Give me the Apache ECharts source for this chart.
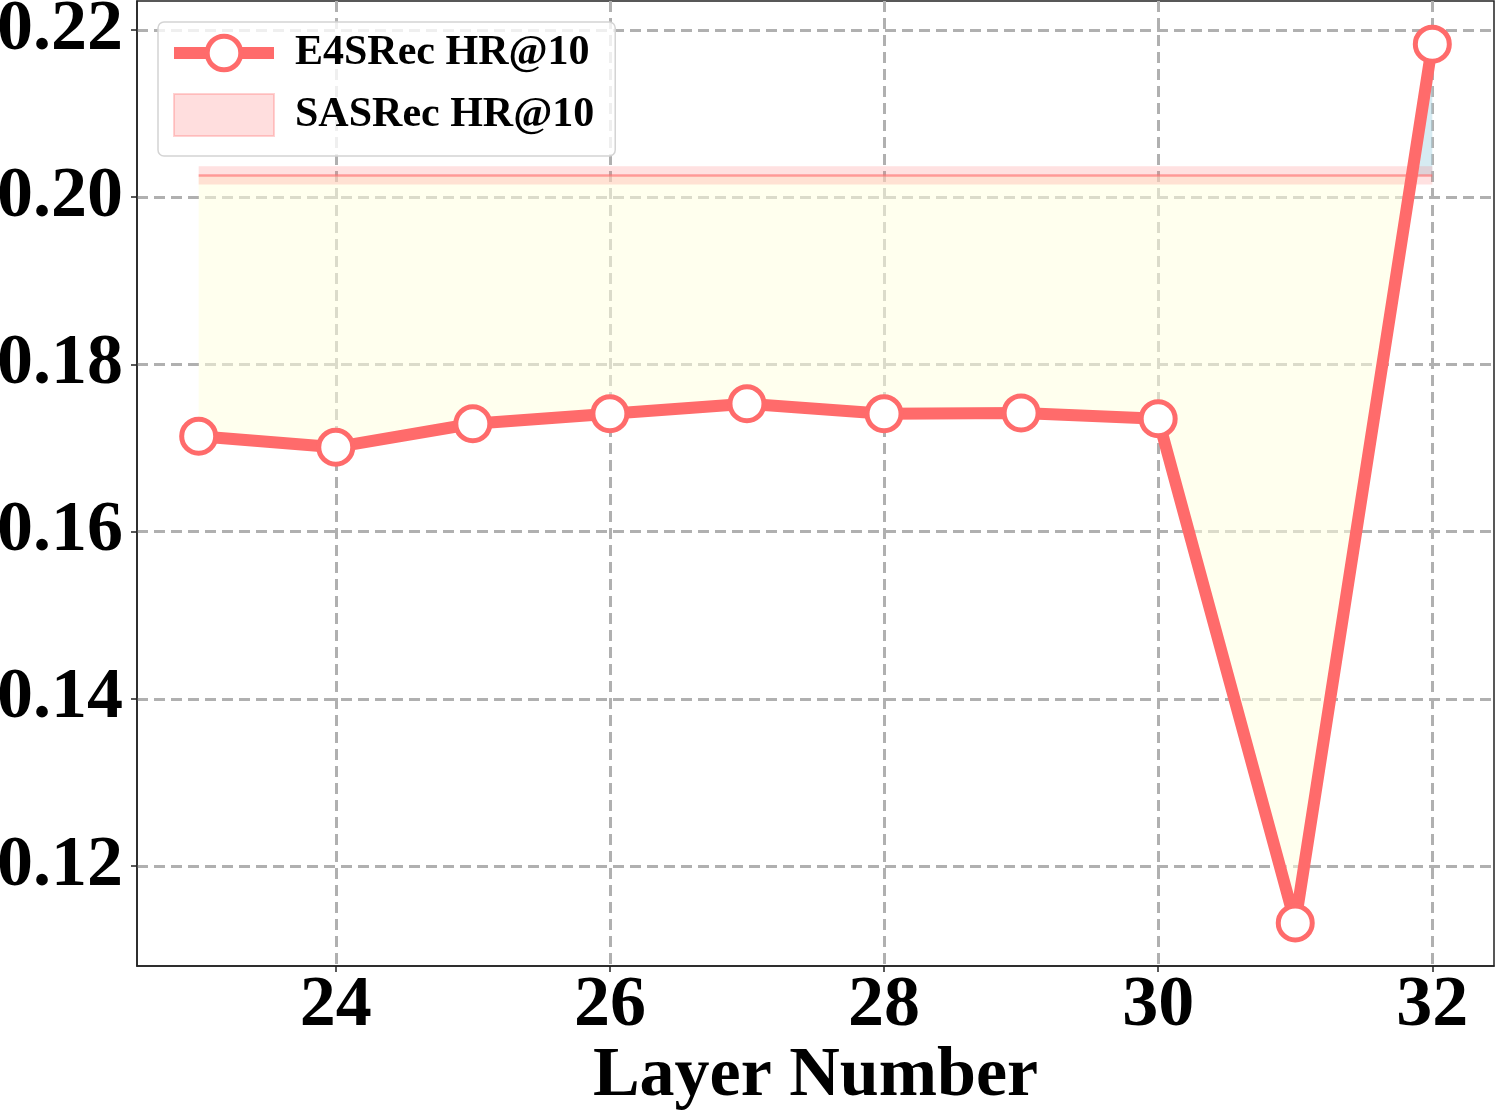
<!DOCTYPE html>
<html>
<head>
<meta charset="utf-8">
<script src="https://cdn.jsdelivr.net/npm/echarts@6/dist/echarts.min.js"></script>
<style>
  html, body { margin: 0; padding: 0; background: #fff; }
  #chart { width: 1495px; height: 1111px; }
</style>
</head>
<body>
<div id="chart"></div>
<script>
// values
const layers = [23, 24, 25, 26, 27, 28, 29, 30, 31, 32];
const e4srecHR = [0.1714, 0.1701, 0.1729, 0.1741, 0.1753, 0.1741, 0.1742, 0.1735, 0.1132, 0.2183];
const sasrecHR = 0.2026;
const sasrecBand = 0.0011;
const xTicks = [24, 26, 28, 30, 32];
const yTicks = [0.12, 0.14, 0.16, 0.18, 0.20, 0.22];

const FONT = '"Times New Roman", "Liberation Serif", serif';
const RED = '#ff6b6b';

let chart = echarts.init(document.getElementById('chart'));

// fill between e4srec and sasrec, yellow below, blue above
function renderFill(params, api) {
    let runs = [];
    let cur = null;
    let base = function (x) { return api.coord([x, sasrecHR]); };
    let push = function (sign, pt, x) {
        if (!cur || cur.sign !== sign) {
            cur = { sign: sign, top: [], xs: [] };
            runs.push(cur);
        }
        cur.top.push(pt);
        cur.xs.push(x);
    };
    for (let i = 0; i < layers.length - 1; i++) {
        let d0 = e4srecHR[i] - sasrecHR;
        let d1 = e4srecHR[i + 1] - sasrecHR;
        let p0 = api.coord([layers[i], e4srecHR[i]]);
        let p1 = api.coord([layers[i + 1], e4srecHR[i + 1]]);
        let s0 = d0 >= 0 ? 1 : -1;
        let s1 = d1 >= 0 ? 1 : -1;
        push(s0, p0, layers[i]);
        if (s0 !== s1) {
            let t = d0 / (d0 - d1);
            let cx = layers[i] + t * (layers[i + 1] - layers[i]);
            let c = base(cx);
            push(s0, c, cx);
            push(s1, c, cx);
        }
        if (i === layers.length - 2) push(s1, p1, layers[i + 1]);
    }
    let children = runs.map(function (r) {
        let pts = r.top.slice();
        for (let k = r.xs.length - 1; k >= 0; k--) pts.push(base(r.xs[k]));
        return {
            type: 'polygon',
            shape: { points: pts },
            style: { fill: r.sign < 0 ? 'rgba(255,255,224,0.55)' : 'rgba(173,216,230,0.5)' },
            silent: true
        };
    });
    return { type: 'group', children: children };
}

function renderBand(params, api) {
    let a = api.coord([layers[0], sasrecHR + sasrecBand]);
    let b = api.coord([layers[layers.length - 1], sasrecHR - sasrecBand]);
    let l0 = api.coord([layers[0], sasrecHR]);
    let l1 = api.coord([layers[layers.length - 1], sasrecHR]);
    return {
        type: 'group',
        children: [{
            type: 'rect',
            shape: { x: a[0], y: a[1], width: b[0] - a[0], height: b[1] - a[1] },
            style: { fill: 'rgba(255,107,107,0.2)' },
            silent: true
        }, {
            type: 'line',
            shape: { x1: l0[0], y1: l0[1], x2: l1[0], y2: l1[1] },
            style: { stroke: 'rgba(255,107,107,0.6)', lineWidth: 2.5 },
            silent: true
        }]
    };
}

chart.setOption({
    animation: false,
    textStyle: { fontFamily: FONT },
    grid: {
        left: 137,
        right: 1,
        top: 1,
        bottom: 145,
        show: true,
        borderColor: '#222',
        borderWidth: 1.5,
        outerBoundsMode: 'none'
    },
    legend: {
        left: 158,
        top: 22,
        orient: 'vertical',
        padding: [10, 21, 19, 10],
        itemGap: 19,
        itemWidth: 100,
        itemHeight: 42,
        backgroundColor: 'rgba(255,255,255,0.8)',
        borderColor: '#d4d4d4',
        borderWidth: 1.5,
        borderRadius: 6,
        textStyle: {
            fontFamily: FONT,
            fontSize: 42,
            fontWeight: 'bold',
            color: '#000',
            padding: [0, 0, 0, 16]
        },
        data: [{
            name: 'E4SRec HR@10',
            lineStyle: { color: RED, width: 12 },
            itemStyle: { color: '#fff', borderColor: RED, borderWidth: 5 }
        }, {
            name: 'SASRec HR@10',
            icon: 'rect',
            itemStyle: { color: 'rgba(255,107,107,0.22)', borderColor: 'rgba(255,107,107,0.3)', borderWidth: 2 }
        }]
    },
    xAxis: {
        type: 'value',
        min: 22.55,
        max: 32.45,
        name: 'Layer Number',
        nameLocation: 'middle',
        nameGap: 76,
        nameMoveOverlap: false,
        nameTextStyle: { fontFamily: FONT, fontSize: 70, fontWeight: 'bold', color: '#000' },
        axisLine: { lineStyle: { color: '#222', width: 1.5 } },
        axisTick: { show: true, length: 6, customValues: xTicks, lineStyle: { color: '#222', width: 1.5 } },
        axisLabel: {
            customValues: xTicks,
            margin: 4,
            fontFamily: FONT,
            fontSize: 72,
            fontWeight: 'bold',
            color: '#000'
        },
        splitLine: { show: true, lineStyle: { color: '#b0b0b0', width: 3, type: [11, 6] } }
    },
    yAxis: {
        type: 'value',
        min: 0.10805,
        max: 0.22346,
        axisLine: { show: true, lineStyle: { color: '#222', width: 1.5 } },
        axisTick: { show: true, length: 6, customValues: yTicks, lineStyle: { color: '#222', width: 1.5 } },
        axisLabel: {
            customValues: yTicks,
            margin: 14,
            fontFamily: FONT,
            fontSize: 72,
            fontWeight: 'bold',
            color: '#000',
            formatter: function (v) { return v.toFixed(2); }
        },
        splitLine: { show: true, lineStyle: { color: '#b0b0b0', width: 3, type: [11, 6] } }
    },
    series: [{
        type: 'custom',
        name: 'fill',
        z: 1,
        renderItem: renderFill,
        data: [[layers[0], e4srecHR[0]]]
    }, {
        type: 'custom',
        name: 'SASRec HR@10',
        z: 2,
        renderItem: renderBand,
        itemStyle: { color: 'rgba(255,107,107,0.22)' },
        data: [[layers[0], sasrecHR]]
    }, {
        type: 'line',
        name: 'E4SRec HR@10',
        z: 5,
        data: layers.map(function (x, i) { return [x, e4srecHR[i]]; }),
        symbol: 'circle',
        symbolSize: 34,
        showAllSymbol: true,
        lineStyle: { color: RED, width: 12 },
        itemStyle: { color: '#fff', borderColor: RED, borderWidth: 5 }
    }]
});

window.onresize = () => {
    chart.resize();
};
</script>
</body>
</html>
